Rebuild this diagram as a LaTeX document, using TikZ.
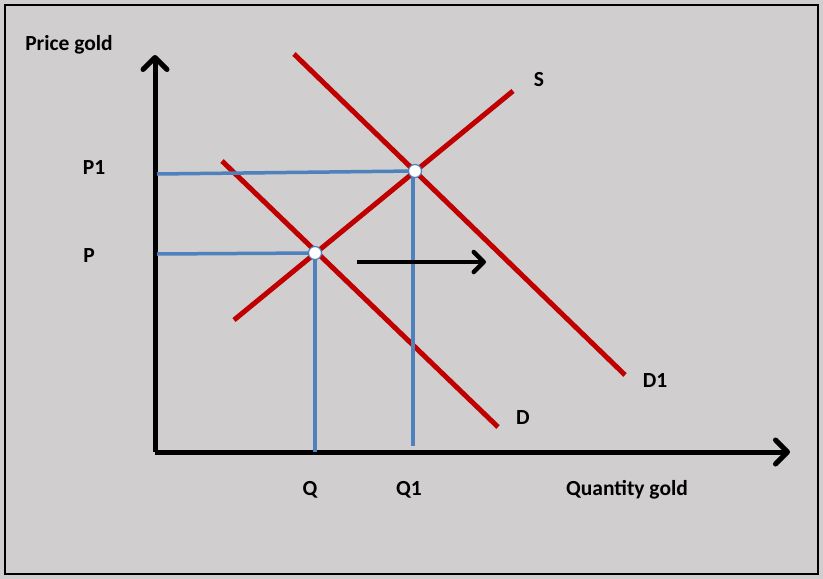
\documentclass[tikz,border=0pt]{standalone}
\usepackage{fontspec}
\setmainfont{Carlito}
\usetikzlibrary{arrows.meta}
\definecolor{bgray}{HTML}{D0CECE}
\definecolor{dred}{HTML}{C00000}
\definecolor{lblue}{HTML}{4F81BD}
\begin{document}
\begin{tikzpicture}[x=1pt,y=-1pt,
  axis/.style={line width=5pt,black,-{Straight Barb[round,length=12pt,width=24pt,line width=5pt]}},
  curve/.style={line width=5pt,dred},
  guide/.style={line width=3.5pt,lblue},
  pt/.style={circle,draw=lblue,fill=white,line width=1.2pt,minimum size=13pt,inner sep=0pt},
  lbl/.style={font=\bfseries\fontsize{21.5}{24}\selectfont,inner sep=0pt}]
\useasboundingbox (0,0) rectangle (823,579);
\fill[bgray] (0,0) rectangle (823,579);
\draw[line width=2pt] (5,5) rectangle (818,574);
% axes
\coordinate (O) at (155,452);
\coordinate (ytop) at (155,55);
\coordinate (xend) at (790,452);
\draw[axis] (O) -- (ytop);
\draw[axis] (O) -- (xend);
% curves
\coordinate (S0) at (234,320); \coordinate (S1) at (513,91);
\coordinate (D0) at (222,161); \coordinate (D1e) at (498,427);
\coordinate (E0) at (294,54); \coordinate (E1e) at (625,375);
\draw[curve] (S0) -- (S1);
\draw[curve] (D0) -- (D1e);
\draw[curve] (E0) -- (E1e);
% equilibria
\coordinate (e) at (315,253);
\coordinate (f) at (415,171);
\coordinate (pax) at (157,254);
\coordinate (p1ax) at (157,174);
\coordinate (qax) at (315,452);
\coordinate (q1ax) at (413,446);
\draw[guide] (pax) -- (e);
\draw[guide] (p1ax) -- (f);
\draw[guide] (e) -- (qax);
\draw[guide] ([xshift=-2pt]f) -- (q1ax);
\node[pt] (ne) at (e) {};
\node[pt] (nf) at (f) {};
% shift arrow
\coordinate (a0) at (357,262);
\coordinate (a1) at (486,262);
\draw[line width=4.5pt,-{Straight Barb[round,length=10pt,width=20pt,line width=4.5pt]}] (a0) -- (a1);
% labels
\node[lbl] (lprice) at (69,45) {Price gold};
\node[lbl] (lp1) at (94,168) {P1};
\node[lbl] (lp) at (89,256) {P};
\node[lbl] (ls) at (539,80) {S};
\node[lbl] (ld1) at (655,381) {D1};
\node[lbl] (ld) at (523,418) {D};
\node[lbl] (lq) at (310,490) {Q};
\node[lbl] (lq1) at (409,490) {Q1};
\node[lbl] (lqty) at (627,490) {Quantity gold};
\end{tikzpicture}
\end{document}
